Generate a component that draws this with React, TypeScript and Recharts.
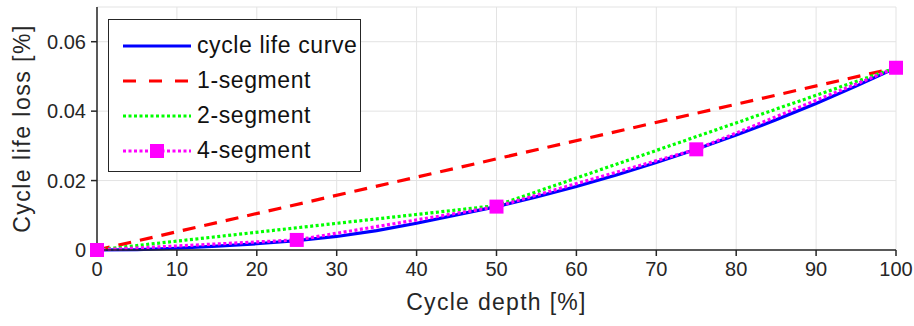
import React from "react";
import { LineChart, Line, XAxis, YAxis, CartesianGrid } from "recharts";

const depthTicks = [0, 10, 20, 30, 40, 50, 60, 70, 80, 90, 100];
const lossTicks = [0, 0.02, 0.04, 0.06];

const curveDepth = [0, 5, 10, 15, 20, 25, 30, 35, 40, 45, 50, 55, 60, 65, 70, 75, 80, 85, 90, 95, 100];
const curveLoss = [0, 0.0001, 0.0005, 0.0011, 0.0018, 0.0027, 0.0039, 0.0056, 0.0077, 0.0101, 0.0125, 0.0153, 0.0183, 0.0216, 0.0252, 0.029, 0.0331, 0.0375, 0.0422, 0.0472, 0.0525];

const seg1Depth = [0, 100];
const seg1Loss = [0, 0.0525];
const seg2Depth = [0, 50, 100];
const seg2Loss = [0, 0.0128, 0.0525];
const seg4Depth = [0, 25, 50, 75, 100];
const seg4Loss = [0, 0.0029, 0.0125, 0.029, 0.0525];

const toRows = (xs: number[], ys: number[]) => xs.map((x, i) => ({ x, y: ys[i] }));

const curveData = toRows(curveDepth, curveLoss);
const seg1Data = toRows(seg1Depth, seg1Loss);
const seg2Data = toRows(seg2Depth, seg2Loss);
const seg4Data = toRows(seg4Depth, seg4Loss);

const FONT = "'Liberation Sans', Arial, Helvetica, sans-serif";
const TXT = "#262626";

const legendItems = [
  { name: "cycle life curve", color: "#0000ff", dash: undefined as string | undefined, marker: false },
  { name: "1-segment", color: "#ff0000", dash: "13 13", marker: false },
  { name: "2-segment", color: "#00ff00", dash: "3 2.5", marker: false },
  { name: "4-segment", color: "#ff00ff", dash: "3 2.5", marker: true },
];

const LegendBox = () => (
  <div
    style={{
      position: "absolute",
      left: 108,
      top: 19,
      border: `1.5px solid ${TXT}`,
      background: "#fff",
      width: 253,
      height: 153,
      boxSizing: "border-box",
      paddingTop: 8,
      fontFamily: FONT,
      fontSize: 23,
      letterSpacing: "0.6px",
      color: "#111",
      whiteSpace: "nowrap",
    }}
  >
    {legendItems.map((it) => (
      <div key={it.name} style={{ display: "flex", alignItems: "center", height: 35 }}>
        <svg width={75} height={20} style={{ marginLeft: 12, flex: "none" }}>
          <line x1={2} y1={10} x2={70} y2={10} stroke={it.color} strokeWidth={3.2} strokeDasharray={it.dash} />
          {it.marker && <rect x={29} y={3} width={14} height={14} fill={it.color} />}
        </svg>
        <span style={{ marginLeft: 1 }}>{it.name}</span>
      </div>
    ))}
  </div>
);

const Square = (props: any) => {
  const { cx, cy } = props;
  if (cx == null || cy == null) return null;
  return <rect x={cx - 7} y={cy - 7} width={14} height={14} fill="#ff00ff" />;
};

export default function App() {
  return (
    <div style={{ position: "absolute", left: 0, top: 0, width: 914, height: 326, background: "#fff" }}>
      <LineChart width={914} height={326} margin={{ top: 7, right: 18, bottom: 16, left: 10 }}>
        <CartesianGrid stroke="#e3e3e3" strokeWidth={1} />
        <XAxis
          type="number"
          dataKey="x"
          domain={[0, 100]}
          ticks={depthTicks}
          allowDuplicatedCategory={false}
          height={60}
          stroke={TXT}
          strokeWidth={1.5}
          tickSize={6}
          tick={{ fill: TXT, fontSize: 20, fontFamily: FONT, dy: 4 }}
          tickLine={{ stroke: TXT }}
          label={{ value: "Cycle depth [%]", position: "insideBottom", offset: 0, fill: TXT, fontSize: 23, fontFamily: FONT, style: { letterSpacing: "1.3px" } }}
        />
        <YAxis
          type="number"
          domain={[0, 0.07]}
          ticks={lossTicks}
          width={87}
          stroke={TXT}
          strokeWidth={1.5}
          tickSize={6}
          tick={{ fill: TXT, fontSize: 20, fontFamily: FONT, dx: -3 }}
          tickFormatter={(v: number) => (v === 0 ? "0" : v.toFixed(2))}
          label={{ value: "Cycle life loss [%]", angle: -90, position: "insideLeft", offset: 12, fill: TXT, fontSize: 23, fontFamily: FONT, style: { textAnchor: "middle", letterSpacing: "1.5px" } }}
        />
        <Line data={curveData} dataKey="y" name="cycle life curve" stroke="#0000ff" strokeWidth={3.2} dot={false} isAnimationActive={false} />
        <Line data={seg1Data} dataKey="y" name="1-segment" stroke="#ff0000" strokeWidth={3.2} strokeDasharray="13 9" dot={false} isAnimationActive={false} />
        <Line data={seg2Data} dataKey="y" name="2-segment" stroke="#00ff00" strokeWidth={3.2} strokeDasharray="3 2.5" dot={false} isAnimationActive={false} />
        <Line data={seg4Data} dataKey="y" name="4-segment" stroke="#ff00ff" strokeWidth={3.2} strokeDasharray="3 2.5" dot={<Square />} isAnimationActive={false} />
      </LineChart>
      <LegendBox />
    </div>
  );
}
